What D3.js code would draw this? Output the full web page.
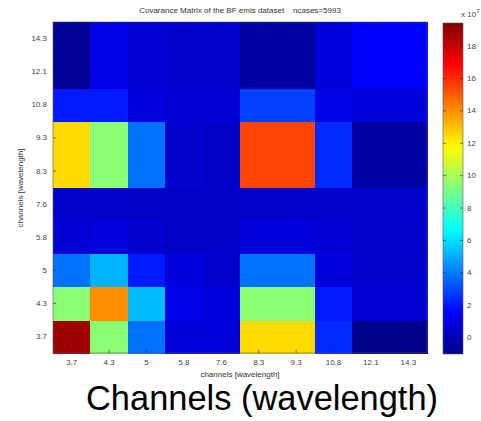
<!DOCTYPE html>
<html><head><meta charset="utf-8">
<script src="https://cdn.jsdelivr.net/npm/d3@7"></script>
<style>
html,body{margin:0;padding:0;background:#fff;}
svg{display:block;font-family:"Liberation Sans",Arial,sans-serif;}
</style></head>
<body><svg id="c" width="481" height="421"></svg>
<script>
// ---- data ----
const channels = ["3.7","4.3","5","5.8","7.6","8.3","9.3","10.8","12.1","14.3"];
// covariance values (x 10^7), one array per row channel (y), columns follow `channels`
const row_14_3 = [-0.75, 1.0, 0.6, 0.45, 0.45, -0.4, -0.4, 0.7, 1.5, 1.5];
const row_12_1 = [-0.75, 1.0, 0.6, 0.45, 0.45, -0.4, -0.4, 0.7, 1.5, 1.5];
const row_10_8 = [2.0, 2.0, 0.8, 0.6, 0.6, 2.8, 2.8, 1.0, 0.8, 0.8];
const row_9_3  = [12.45, 9.4, 3.8, 0.5, 0.4, 15.5, 15.5, 2.3, -0.4, -0.4];
const row_8_3  = [12.45, 9.4, 3.8, 0.5, 0.4, 15.5, 15.5, 2.3, -0.4, -0.4];
const row_7_6  = [0.5, 0.5, 0.4, 0.4, 0.4, 0.5, 0.5, 0.5, 0.5, 0.5];
const row_5_8  = [0.6, 0.8, 0.5, 0.4, 0.4, 0.8, 0.8, 0.6, 0.5, 0.5];
const row_5    = [3.8, 5.1, 2.0, 0.8, 0.5, 3.8, 3.8, 0.8, 0.5, 0.5];
const row_4_3  = [9.4, 14.0, 5.3, 1.0, 0.8, 9.4, 9.4, 2.0, 0.6, 0.6];
const row_3_7  = [18.8, 9.4, 3.8, 0.8, 0.8, 12.45, 12.45, 2.3, -0.9, -0.9];
const rows = {"3.7":row_3_7,"4.3":row_4_3,"5":row_5,"5.8":row_5_8,"7.6":row_7_6,
  "8.3":row_8_3,"9.3":row_9_3,"10.8":row_10_8,"12.1":row_12_1,"14.3":row_14_3};
const colorDomain = [-1.05, 19.4];
const colorTicks = [0,2,4,6,8,10,12,14,16,18];
const titleText = "Covarance Matrix of the BF emis dataset    ncases=5993";
const xLabel = "channels [wavelength]";
const yLabel = "channels [wavelength]";
const bigLabel = "Channels (wavelength)";

// ---- layout ----
const svg = d3.select("#c");
const L=53, R=427, T=22, B=353;
const cbL=443, cbR=463;

const x = d3.scaleBand().domain(channels).range([L,R]).padding(0);
const y = d3.scaleBand().domain(channels).range([B,T]).padding(0);

// jet colormap
const jetStops = [0,0.125,0.375,0.625,0.875,1];
const jetCols = ["#000083","#0000ff","#00ffff","#ffff00","#ff0000","#800000"];
const jet = d3.scaleLinear().domain(jetStops).range(jetCols).clamp(true);
const norm = d3.scaleLinear().domain(colorDomain).range([0,1]).clamp(true);
const color = v => jet(norm(v));

const cells = [];
channels.forEach(r => rows[r].forEach((v,j) => cells.push({r, c:channels[j], v})));

svg.append("g").attr("shape-rendering","crispEdges").selectAll("rect").data(cells).join("rect")
  .attr("x", d=>x(d.c)).attr("y", d=>y(d.r))
  .attr("width", x.bandwidth()+0.6).attr("height", y.bandwidth()+0.6)
  .attr("fill", d=>color(d.v));

// axes
const tickFont = g => g.selectAll("text").attr("font-size","8px").attr("fill","#444");
const cleanup = g => { g.select(".domain").remove(); g.selectAll(".tick line").attr("stroke","#222").attr("stroke-width",0.6); };

svg.append("g").attr("transform",`translate(0,${B})`)
  .call(d3.axisBottom(x).tickSize(-3).tickPadding(6))
  .call(cleanup).call(tickFont).attr("font-family",null);
svg.append("g").attr("transform",`translate(${L},0)`)
  .call(d3.axisLeft(y).tickSize(-3).tickPadding(6))
  .call(cleanup).call(tickFont).attr("font-family",null);
svg.append("g").attr("transform",`translate(0,${T})`)
  .call(d3.axisTop(x).tickSize(-3).tickFormat(""))
  .call(cleanup);
svg.append("g").attr("transform",`translate(${R},0)`)
  .call(d3.axisRight(y).tickSize(-3).tickFormat(""))
  .call(cleanup);

svg.append("rect").attr("x",L).attr("y",T).attr("width",R-L).attr("height",B-T)
  .attr("fill","none").attr("stroke","#556").attr("stroke-width",0.6);

// colorbar
const cy = d3.scaleLinear().domain(colorDomain).range([B+1,T+1]);
const defs = svg.append("defs");
const grad = defs.append("linearGradient").attr("id","jetg")
  .attr("x1",0).attr("y1",1).attr("x2",0).attr("y2",0);
d3.range(0,1.0001,0.02).forEach(t => grad.append("stop").attr("offset",t).attr("stop-color",jet(t)));
svg.append("rect").attr("x",cbL).attr("y",cy(colorDomain[1])).attr("width",cbR-cbL)
  .attr("height",cy(colorDomain[0])-cy(colorDomain[1])).attr("fill","url(#jetg)")
  .attr("stroke","#556").attr("stroke-width",0.6);
svg.append("g").attr("transform",`translate(${cbR},0)`)
  .call(d3.axisRight(cy).tickValues(colorTicks).tickSize(-3).tickPadding(4))
  .call(cleanup).call(tickFont).attr("font-family",null);
svg.append("g").attr("transform",`translate(${cbL},0)`)
  .call(d3.axisLeft(cy).tickValues(colorTicks).tickSize(-3).tickFormat(""))
  .call(cleanup);
const ex = svg.append("text").attr("x",461).attr("y",17).attr("font-size","8px").attr("fill","#444");
ex.append("tspan").text("x 10");
ex.append("tspan").attr("dy",-4).attr("font-size","6px").text("7");

// titles
svg.append("text").attr("x",240).attr("y",13).attr("text-anchor","middle")
  .attr("font-size","8px").attr("fill","#333").style("white-space","pre").text(titleText);
svg.append("text").attr("x",240).attr("y",377).attr("text-anchor","middle")
  .attr("font-size","8px").attr("fill","#333").text(xLabel);
svg.append("text").attr("transform","translate(23,188) rotate(-90)").attr("text-anchor","middle")
  .attr("font-size","8px").attr("fill","#333").text(yLabel);
svg.append("text").attr("x",86).attr("y",410)
  .attr("font-family","'Liberation Sans Narrow','Liberation Sans',Arial,sans-serif")
  .attr("font-size","35px").attr("fill","#000")
  .attr("textLength",352).attr("lengthAdjust","spacingAndGlyphs").text(bigLabel);
</script></body></html>
